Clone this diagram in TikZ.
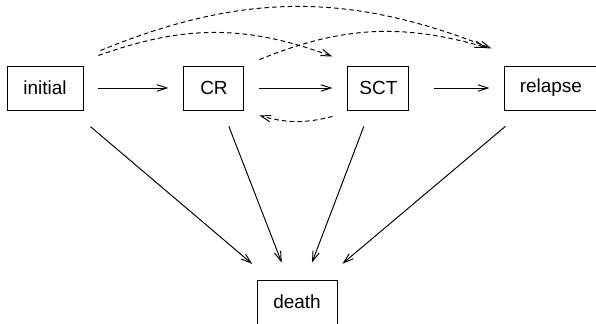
\documentclass[tikz,border=0pt]{standalone}
\usepackage{fontspec}
\setmainfont{Liberation Sans}
\usepackage{tikz}
\usetikzlibrary{arrows.meta,positioning}
\tikzset{
  state/.style={draw, line width=0.55pt, align=center, minimum height=0.88cm, inner sep=0pt, font=\fontsize{10.8}{13}\selectfont},
  line/.style={-{Straight Barb[length=2mm,width=1.3mm]}, line width=0.55pt},
  jump/.style={line, dash pattern=on 2.6pt off 1.8pt}
}
\begin{document}
\begin{tikzpicture}[node distance=2cm]
    \useasboundingbox (0,0) rectangle (11.92,-6.48);
    \node[state, minimum width=1.52cm] (initial) at (0.9,-1.76) {initial};
    \node[state, minimum width=1.2cm, right=2cm of initial] (cr) {CR};
    \node[state, minimum width=1.22cm, right=2.06cm of cr] (sct) {SCT};
    \node[state, minimum width=1.84cm, right=1.9cm of sct] (relapse) {relapse};
    \node[state, minimum width=1.6cm] (death) at (5.94,-6.04) {death};
    % forward transitions
    \draw[line, shorten <=0.3cm, shorten >=0.3cm] (initial) -- (cr);
    \draw[line, shorten <=0.3cm, shorten >=0.3cm] (cr) -- (sct);
    \draw[line, shorten <=0.5cm, shorten >=0.3cm] (sct) -- (relapse);
    % to death
    \draw[line, shorten <=0.5cm, shorten >=0.48cm] (initial) -- (death);
    \draw[line, shorten <=0.34cm, shorten >=0.36cm] (cr) -- (death);
    \draw[line, shorten <=0.34cm, shorten >=0.36cm] (sct) -- (death);
    \draw[line, shorten <=0.49cm, shorten >=0.49cm] (relapse) -- (death);
    % skipped states and back jump
    \draw[jump] ([shift={(0.3,0.2)}]initial.north east) to[bend left=20] ([shift={(-0.3,0.18)}]sct.north west);
    \draw[jump] ([shift={(0.34,0.3)}]initial.north east) to[bend left=22] ([shift={(-0.26,0.34)}]relapse.north west);
    \draw[jump] ([shift={(0.3,0.12)}]cr.north east) to[bend left=19] ([shift={(-0.36,0.36)}]relapse.north west);
    \draw[jump] ([shift={(-0.3,-0.12)}]sct.south west) to[bend left=15] ([shift={(0.3,-0.1)}]cr.south east);
\end{tikzpicture}
\end{document}
